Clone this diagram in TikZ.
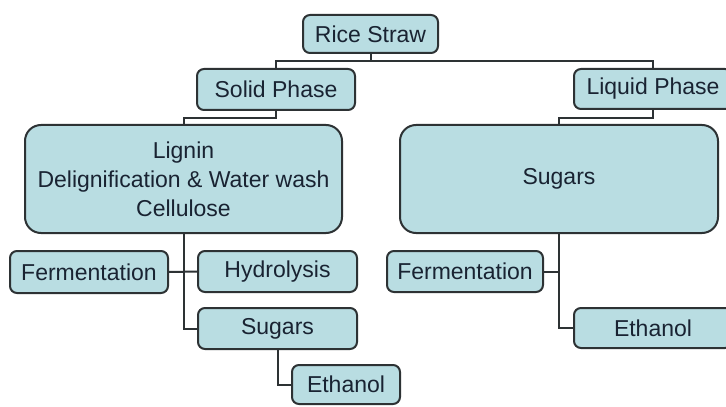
\documentclass[tikz,border=0pt]{standalone}
\usepackage{fontspec}
\setmainfont{Liberation Sans}
\usepackage{tikz}
\usetikzlibrary{calc}
\definecolor{boxfill}{RGB}{185,221,226}
\definecolor{boxline}{RGB}{45,50,52}
\definecolor{boxtext}{RGB}{25,35,50}

\begin{document}
\begin{tikzpicture}[x=0.5pt, y=-0.5pt,
    box/.style={draw=boxline, fill=boxfill, line width=1pt, rounded corners=3.5pt,
      text=boxtext, inner sep=0pt, font=\fontsize{11.5}{14.5}\selectfont},
    bigbox/.style={box, rounded corners=8pt, align=center},
    link/.style={draw=boxline, line width=1pt}]
      \clip (0, 0) rectangle (726, 406);
      \fill[white] (0, 0) rectangle (726, 406);
      \node[box, minimum width=67.5pt, minimum height=19pt] (rice) at (370.5, 34) {Rice Straw};
      \node[box, minimum width=79pt, minimum height=20.5pt] (solid) at (276, 89.5) {Solid Phase};
      \node[box, minimum width=79pt, minimum height=20pt] (liquid) at (653, 89) {Liquid Phase};
      \node[bigbox, minimum width=158.5pt, minimum height=54pt] (lignin) at (183.5, 179) {Lignin\\Delignification \& Water wash\\Cellulose};
      \node[bigbox, minimum width=159pt, minimum height=54pt] (sugarsR) at (559, 179) {Sugars};
      \node[box, minimum width=79pt, minimum height=21pt] (fermL) at (89, 272) {Fermentation};
      \node[box, minimum width=79.5pt, minimum height=20.5pt] (hydro) at (277.5, 271.5) {Hydrolysis};
      \node[box, minimum width=79.5pt, minimum height=20.5pt] (sugarsL) at (277.5, 328.5) {Sugars};
      \node[box, minimum width=54pt, minimum height=19.5pt] (ethL) at (346, 384.5) {Ethanol};
      \node[box, minimum width=78pt, minimum height=20.5pt] (fermR) at (465, 271.5) {Fermentation};
      \node[box, minimum width=79pt, minimum height=20pt] (ethR) at (653, 328) {Ethanol};
      \coordinate (bus) at (0, 61);
      \draw[link] (rice.south) -- (rice.south |- bus);
      \draw[link] (solid.north) -- (solid.north |- bus) -- (liquid.north |- bus) -- (liquid.north);
      \draw[link] (solid.south) -- ++(0, 7) -| (lignin.north);
      \draw[link] (liquid.south) -- ++(0, 8) -| (sugarsR.north);
      \draw[link] (lignin.south) |- (sugarsL.west);
      \draw[link] (fermL.east) -- (hydro.west);
      \draw[link] (sugarsL.south) |- (ethL.west);
      \draw[link] (sugarsR.south) |- (ethR.west);
      \draw[link] (fermR.east) -- (sugarsR.south |- fermR.east);
    \end{tikzpicture}
\end{document}
